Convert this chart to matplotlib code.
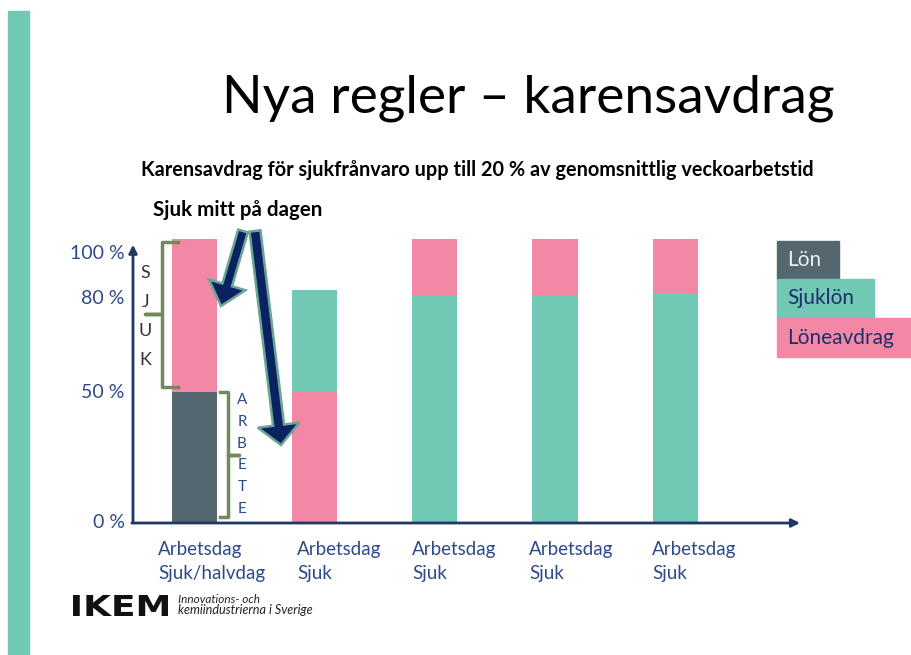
import matplotlib
matplotlib.use('Agg')
import matplotlib.pyplot as plt
from matplotlib.patches import Rectangle, FancyArrow, PathPatch
from matplotlib.textpath import TextPath
from matplotlib.font_manager import FontProperties
from matplotlib.transforms import Affine2D
import numpy as np

plt.rcParams['font.family'] = ['Lato', 'DejaVu Sans']

# data (100 = full bar height)
categories = ['Arbetsdag\nSjuk/halvdag', 'Arbetsdag\nSjuk', 'Arbetsdag\nSjuk', 'Arbetsdag\nSjuk', 'Arbetsdag\nSjuk']
lon = np.array([46, 0, 0, 0, 0])
avdrag_under = np.array([0, 46, 0, 0, 0])
sjuklon = np.array([0, 36, 80, 80, 81])
avdrag_over = np.array([54, 0, 20, 20, 19])
ytick_vals = [0, 46, 79, 95]
ytick_labels = ['0 %', '50 %', '80 %', '100 %']
legend_labels = ['Lön', 'Sjuklön', 'Löneavdrag']

dark = '#546670'
teal = '#70c8b5'
pink = '#f288a6'
navy = '#1f3864'
txtblue = '#2e4a8a'
green = '#6f8b5d'

fig = plt.figure(figsize=(9.12, 6.55), dpi=100)
r = fig.canvas.get_renderer()


def fit(ax, x, y, s, w, **kw):
    t = ax.text(x, y, s, **kw)
    bb = t.get_window_extent(r)
    t.set_fontsize(t.get_fontsize() * w / bb.width)
    return t


# chart axes (bar centres ~194 px + 120 px per step)
ax = fig.add_axes([133 / 912, (655 - 523) / 655, 667 / 912, 284 / 655])
xlo, xhi = (133 - 194.4) / 120.2, (800 - 194.4) / 120.2
ax.set_xlim(xlo, xhi)
ax.set_ylim(0, 100)
ax.axis('off')
x = np.arange(len(categories))
w = 0.375
b = lon.copy()
ax.bar(x, lon, w, color=dark, zorder=2)
ax.bar(x, avdrag_under, w, bottom=b, color=pink, zorder=2)
b = b + avdrag_under
ax.bar(x, sjuklon, w, bottom=b, color=teal, zorder=2)
b = b + sjuklon
ax.bar(x, avdrag_over, w, bottom=b, color=pink, zorder=2)

# axes arrows
ax.annotate('', xy=(xlo, 98), xytext=(xlo, 0), annotation_clip=False,
            arrowprops=dict(arrowstyle='-|>', color=navy, lw=2, shrinkA=0, shrinkB=0, mutation_scale=12))
ax.annotate('', xy=(xhi, 0), xytext=(xlo - 0.01, 0), annotation_clip=False,
            arrowprops=dict(arrowstyle='-|>', color=navy, lw=2, shrinkA=0, shrinkB=0, mutation_scale=12))

for v, lab in zip(ytick_vals, ytick_labels):
    ax.text(xlo - 0.07, v, lab, ha='right', va='center', fontsize=14, color=txtblue)

# brackets on first bar
top = lon[0] + avdrag_over[0]
xv, xe, xt = -0.27, -0.14, -0.41
ym = (top - 1 + lon[0] + 2) / 2
ax.plot([xe, xv, xv, xt, xv, xv, xe], [top - 1, top - 1, ym, ym, ym, lon[0] + 2, lon[0] + 2],
        color=green, lw=2.5, clip_on=False, solid_joinstyle='round')
xv, xe, xt = 0.28, 0.21, 0.37
ym = (lon[0] + 2) / 2
ax.plot([xe, xv, xv, xt, xv, xv, xe], [lon[0], lon[0], ym, ym, ym, 2, 2],
        color=green, lw=2.5, clip_on=False, solid_joinstyle='round')
for ch, yy in zip('SJUK', np.linspace(88, 57.5, 4)):
    ax.text(-0.41, yy, ch, ha='center', va='center', fontsize=13, color='#333333')
for ch, yy in zip('ARBETE', np.linspace(43.3, 4.9, 6)):
    ax.text(0.395, yy, ch, ha='center', va='center', fontsize=11, color=txtblue)

# overlay in pixel coords
ov = fig.add_axes([0, 0, 1, 1], zorder=5)
ov.set_xlim(0, 912)
ov.set_ylim(655, 0)
ov.axis('off')
ov.patch.set_alpha(0)

ov.add_patch(Rectangle((8, 11), 21, 644, color=teal))

fit(ov, 222, 112, 'Nya regler – karensavdrag', 613, fontsize=36, color='black', va='baseline')
fit(ov, 141, 176, 'Karensavdrag för sjukfrånvaro upp till 20 % av genomsnittlig veckoarbetstid', 669,
    fontsize=13, fontweight='bold', color='black', va='baseline')
fit(ov, 153, 216, 'Sjuk mitt på dagen', 169, fontsize=13, fontweight='bold', color='black', va='baseline')

# big arrows
for (x0, y0, x1, y1, wd, hw, hl) in [(243, 231, 221, 306, 10, 38, 22), (255, 231, 281, 445, 11, 42, 20)]:
    ov.add_patch(FancyArrow(x0, y0, x1 - x0, y1 - y0, width=wd, head_width=hw, head_length=hl,
                            length_includes_head=True, facecolor='#0b2260', edgecolor='#6aa596', lw=1.8))

# x labels
label_x = [158, 297, 412, 529, 652]
for lx, lab in zip(label_x, categories):
    ov.text(lx, 541, lab, ha='left', va='top', fontsize=13.5, color=txtblue, linespacing=1.5)

# legend
leg_boxes = [(777, 241, 62, 38, dark, '#eeeeee'), (777, 279, 97, 39, teal, '#1f2f6b'), (777, 318, 135, 39, pink, '#1f2f6b')]
for (bx, by, bw, bh, fc, tc), lab in zip(leg_boxes, legend_labels):
    ov.add_patch(Rectangle((bx, by), bw, bh, color=fc))
    ov.text(bx + 10, by + bh / 2, lab, ha='left', va='center', fontsize=15, color=tc)

# logo: IKEM stretched to its box (73..168 x 595..616)
tp = TextPath((0, 0), 'IKEM', size=10, prop=FontProperties(family='DejaVu Sans', weight='bold'))
ext = tp.get_extents()
tr = (Affine2D().translate(-ext.x0, -ext.y0).scale(95 / ext.width, -21 / ext.height)
      .translate(73, 616))
ov.add_patch(PathPatch(tr.transform_path(tp), color='#111111', lw=0))
t1 = fit(ov, 178, 603, 'Innovations- och', 82, fontsize=8, style='italic', color='#222222', va='baseline')
fit(ov, 178, 614, 'kemiindustrierna i Sverige', 135, fontsize=8, style='italic', color='#222222', va='baseline')

fig.savefig('out.png', dpi=100)
